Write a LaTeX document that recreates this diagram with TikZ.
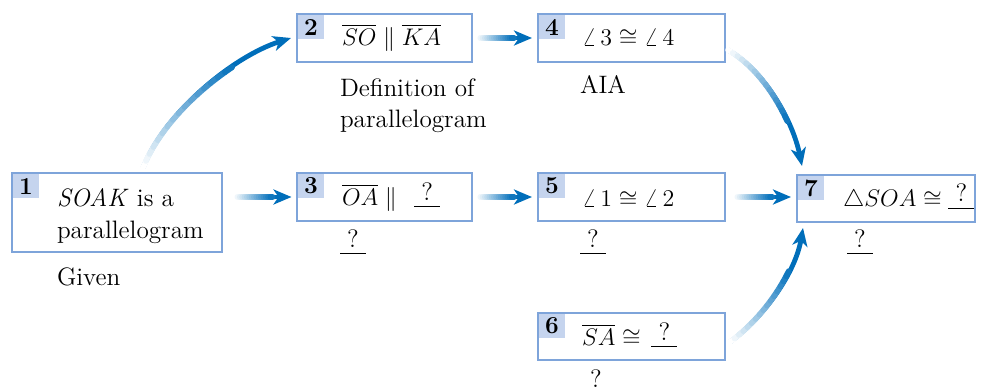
\documentclass[tikz,border=0pt]{standalone}
\usepackage{fontspec}
\usetikzlibrary{arrows.meta,calc}
\definecolor{arrowblue}{RGB}{0,110,186}
\definecolor{boxline}{RGB}{126,164,218}
\definecolor{tabfill}{RGB}{197,212,238}
\newcommand\qblank{\rlap{\rule[-1pt]{13pt}{0.6pt}}\makebox[13pt]{\raisebox{2.5pt}{?}}}
\newcommand\gradarrow[1]{%
  \draw[arrowline,-{Stealth[length=9pt,width=7.5pt,inset=2.5pt]}] #1;
  \path #1 \foreach \k in {0,...,16}{coordinate[pos=\k/24] (g\k)};
  \foreach \k [evaluate=\k as \c using \k*100/16, evaluate=\k as \n using int(\k+1)] in {0,...,15}{%
    \draw[arrowblue!\c!white, line width=2.8pt, line cap=round] (g\k) -- (g\n);}%
}
\begin{document}
\begin{tikzpicture}[x=0.5pt,y=-0.5pt,
  every node/.style={font=\fontsize{12.6}{15.8}\selectfont, inner sep=0pt, outer sep=0pt},
  stepbox/.style={draw=boxline, line width=1pt, rectangle, minimum height=24pt},
  tab/.style={fill=tabfill, minimum width=13pt, minimum height=12pt, anchor=north west, font=\fontsize{12.2}{15.8}\selectfont\bfseries},
  lbl/.style={anchor=base west},
  arrowline/.style={draw=arrowblue, line width=2.4pt}
]
\useasboundingbox (0,0) rectangle (983,391);
% boxes
\node[stepbox, minimum width=105pt, minimum height=39.5pt] (b1) at (117,212.5) {};
\node[stepbox, minimum width=87.5pt] (b2) at (384.5,38) {};
\node[stepbox, minimum width=93.5pt] (b4) at (631.5,38) {};
\node[stepbox, minimum width=87.5pt] (b3) at (384.5,197) {};
\node[stepbox, minimum width=93.5pt] (b5) at (631.5,197) {};
\node[stepbox, minimum width=89pt, minimum height=23.5pt] (b7) at (886,198.5) {};
\node[stepbox, minimum width=93.5pt, minimum height=23.5pt] (b6) at (631.5,336.5) {};
% tabs
\node[tab] (t1) at ([xshift=0.5pt,yshift=-0.5pt]b1.north west) {1};
\node[tab] (t2) at ([xshift=0.5pt,yshift=-0.5pt]b2.north west) {2};
\node[tab] (t3) at ([xshift=0.5pt,yshift=-0.5pt]b3.north west) {3};
\node[tab] (t4) at ([xshift=0.5pt,yshift=-0.5pt]b4.north west) {4};
\node[tab] (t5) at ([xshift=0.5pt,yshift=-0.5pt]b5.north west) {5};
\node[tab] (t6) at ([xshift=0.5pt,yshift=-0.5pt]b6.north west) {6};
\node[tab] (t7) at ([xshift=0.5pt,yshift=-0.5pt]b7.north west) {7};
% statements
\node[lbl] (s1a) at (57,206.7) {\textit{SOAK} is a};
\node[lbl] (s1b) at (57,238.3) {parallelogram};
\node[lbl] (s2) at (342,45) {$\overline{SO}\parallel\overline{KA}$};
\node[lbl] (s4) at (582,45.5) {$\angle\,3\cong\angle\,4$};
\node[lbl] (s3) at (342,205) {$\overline{OA}\parallel\;\,\qblank$};
\node[lbl] (s5) at (582,206.7) {$\angle\,1\cong\angle\,2$};
\node[lbl] (s7) at (843,206.7) {$\triangle SOA\cong\qblank$};
\node[lbl] (s6) at (582,345) {$\overline{SA}\cong\,\qblank$};
% reasons
\node[lbl] (r1) at (57,285) {Given};
\node[lbl] (r2a) at (340,96) {Definition of};
\node[lbl] (r2b) at (340,127.6) {parallelogram};
\node[lbl] (r4) at (580,93) {AIA};
\node[lbl] (r3) at (340,252) {\qblank};
\node[lbl] (r5) at (580,252) {\qblank};
\node[lbl] (r7) at (847,252) {\qblank};
\node[lbl] (r6) at (590,387) {?};
% connectors
\gradarrow{([xshift=13pt,yshift=2.5pt]b1.north) .. controls +(22,-56) and +(-57,18) .. ([xshift=-3pt]b2.west)}
\gradarrow{($(b3.west -| b1.east)+(13,0)$) -- ([xshift=-2.75pt]b3.west)}
\gradarrow{([xshift=3pt]b2.east) -- ([xshift=-3pt]b4.west)}
\gradarrow{([xshift=3pt]b3.east) -- ([xshift=-3pt]b5.west)}
\gradarrow{([xshift=5pt]b5.east) -- ($(b5.east -| b7.west)+(-6,0)$)}
\gradarrow{([xshift=1.5pt,yshift=-6pt]b4.east) .. controls +(38,22) and +(-9,-44) .. ([xshift=2.5pt,yshift=4.5pt]b7.north west)}
\gradarrow{([xshift=2.5pt,yshift=-2.75pt]b6.east) .. controls +(36,-27) and +(-7.6,44) .. ([xshift=3pt,yshift=-3pt]b7.south west)}
\end{tikzpicture}
\end{document}
